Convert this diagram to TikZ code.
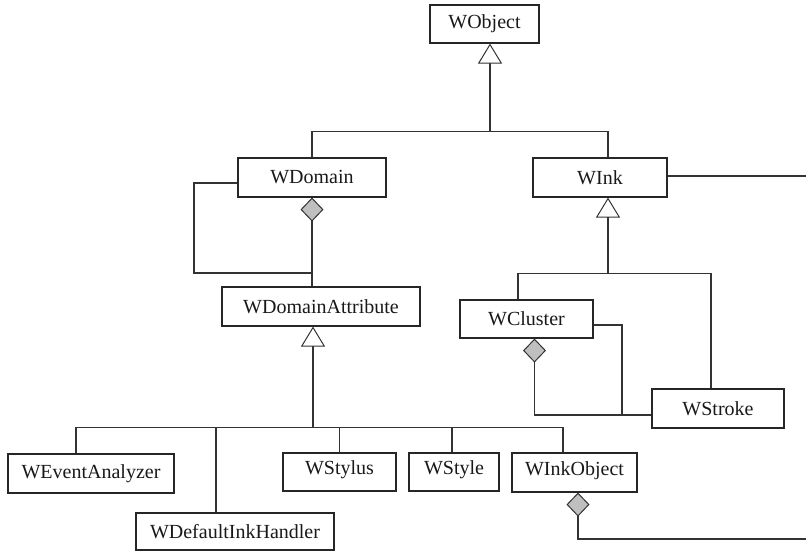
\documentclass[tikz,border=0pt]{standalone}
\usepackage{fontspec}
\setmainfont{Liberation Serif}
\usetikzlibrary{arrows.meta,calc}
\begin{document}
\begin{tikzpicture}[x=1pt,y=-1pt,
  box/.style={draw=black!85,line width=1.1pt,fill=white,inner sep=0pt,
    font=\fontsize{20}{23}\selectfont,text=black!90},
  conn/.style={draw=black!80,line width=1.1pt},
  gen/.style={conn,-{Triangle[open,fill=white,width=24pt,length=20pt,line width=1pt]}},
  agg/.style={conn,{Diamond[fill=gray!50,width=23pt,length=24pt,line width=1pt]}-}]
\useasboundingbox (0,0) rectangle (806,551);
% classes
\node[box,minimum width=109pt,minimum height=38pt] (WObject) at (484.5,24) {WObject};
\node[box,minimum width=148pt,minimum height=39pt] (WDomain) at (312,177.5) {WDomain};
\node[box,minimum width=134pt,minimum height=39pt] (WInk) at (600,177.5) {WInk};
\node[box,minimum width=198pt,minimum height=39pt] (WDomainAttribute) at (321,306.5) {WDomainAttribute};
\node[box,minimum width=133pt,minimum height=38pt] (WCluster) at (526.5,319) {WCluster};
\node[box,minimum width=132pt,minimum height=39pt] (WStroke) at (718,408.5) {WStroke};
\node[box,minimum width=166pt,minimum height=39pt] (WEventAnalyzer) at (91,473.5) {WEventAnalyzer};
\node[box,minimum width=198pt,minimum height=37pt] (WDefaultInkHandler) at (235,531.5) {WDefaultInkHandler};
\node[box,minimum width=113pt,minimum height=38pt,text depth=8pt] (WStylus) at (339.5,472) {WStylus};
\node[box,minimum width=90pt,minimum height=38pt,text depth=8pt] (WStyle) at (454,472) {WStyle};
\node[box,minimum width=125pt,minimum height=39pt,text depth=7pt] (WInkObject) at (574.5,472.5) {WInkObject};
% WObject generalization
\coordinate (b1) at (490,132);
\draw[conn] (WDomain.north) |- ($(WInk.north)+(8,-26)$) -- ($(WInk.north)+(8,0)$);
\draw[gen] (b1) -- (b1 |- WObject.south);
% WDomain aggregation and self loop
\draw[agg] (WDomain.south) -- (WDomain.south |- WDomainAttribute.north);
\coordinate (dl) at (194,273);
\draw[conn] ($(WDomain.west)+(0,5.5)$) -| (dl) -- (WDomain.south |- dl);
% WDomainAttribute generalization
\coordinate (da) at (313,428);
\draw[gen] (da) -- (da |- WDomainAttribute.south);
\draw[conn] ($(WEventAnalyzer.north)+(-15,0)$) |- ($(WInkObject.north)+(-11.5,-25)$) -- ($(WInkObject.north)+(-11.5,0)$);
\draw[conn] ($(WDefaultInkHandler.north)+(-19,0)$) -- ($(WDefaultInkHandler.north)+(-19,-85)$);
\draw[conn] (WStylus.north) -- ++(0,-25);
\draw[conn] ($(WStyle.north)+(-2,0)$) -- ++(0,-25);
% WInk generalization
\coordinate (ib) at (608,274);
\draw[gen] (ib) -- (ib |- WInk.south);
\draw[conn] ($(WCluster.north)+(-8.5,0)$) |- ($(WStroke.north)+(-7,-115)$) -- ($(WStroke.north)+(-7,0)$);
% WInk to right edge
\coordinate (re) at (806,176);
\draw[conn] (WInk.east |- re) -- (re);
% WCluster aggregation and self loop
\coordinate (cl) at (534.5,415);
\draw[agg] ($(WCluster.south)+(8,0)$) -- (cl) -- (WStroke.west |- cl);
\coordinate (cr) at (622,415);
\draw[conn] ($(WCluster.east)+(0,6)$) -| (cr);
% WInkObject aggregation
\coordinate (ob) at (578,539);
\draw[agg] (WInkObject.south -| ob) -- (ob) -- (806,539);
\end{tikzpicture}
\end{document}
